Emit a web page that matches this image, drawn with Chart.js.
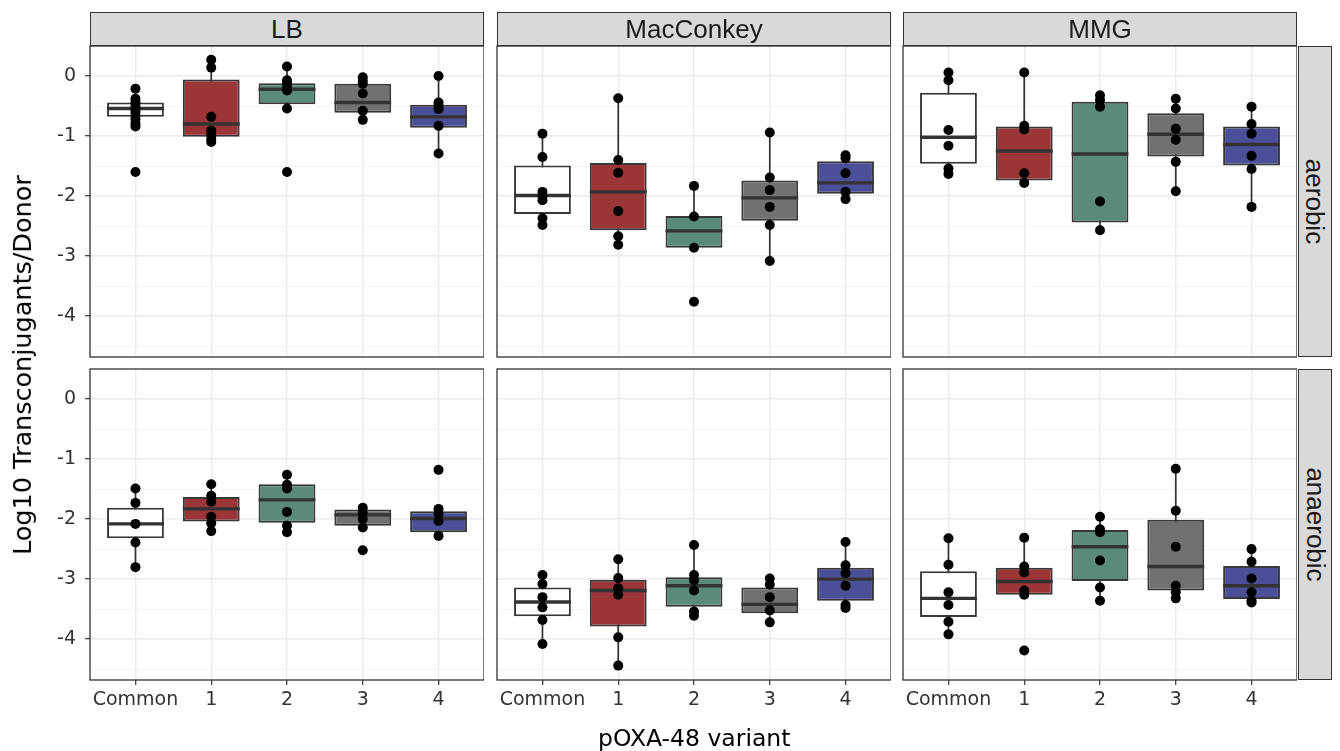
<!DOCTYPE html>
<html><head><meta charset="utf-8">
<script src="https://cdn.jsdelivr.net/npm/chart.js@4.4.1/dist/chart.umd.min.js"></script>
<style>
html,body{margin:0;padding:0;background:#fff;}
#wrap{position:relative;width:1340px;height:751px;overflow:hidden;background:#fff;}
canvas{position:absolute;}
.strip{position:absolute;box-sizing:border-box;background:#d9d9d9;border:1px solid #333;font-family:"Liberation Sans",Arial,sans-serif;font-size:26px;color:#1a1a1a;display:flex;align-items:center;justify-content:center;}
.vtext{transform:rotate(90deg);white-space:nowrap;}
.title{position:absolute;font-family:"DejaVu Sans",sans-serif;color:#000;white-space:nowrap;transform-origin:center center;}
</style></head><body><div id="wrap"></div>
<script>
// ---------- data ----------
const categories = ['Common', '1', '2', '3', '4'];
const media = ['LB', 'MacConkey', 'MMG'];
const conditions = ['aerobic', 'anaerobic'];
const yTickValues = [0, -1, -2, -3, -4];
const fillColors = ['#ffffff', '#9c3537', '#5a8a78', '#717171', '#4b4f97'];

// points per variant (Common,1,2,3,4)
const lbAerobicPoints = [
  [-0.21, -0.38, -0.44, -0.5, -0.55, -0.6, -0.66, -0.72, -0.79, -0.84, -1.6],
  [0.27, 0.14, -0.68, -0.91, -0.98, -1.05, -1.1],
  [0.16, -0.07, -0.12, -0.19, -0.24, -0.54, -1.6],
  [-0.02, -0.08, -0.13, -0.29, -0.58, -0.73],
  [0.0, -0.44, -0.5, -0.55, -0.83, -1.29]
];
const macAerobicPoints = [
  [-0.96, -1.35, -1.93, -2.0, -2.07, -2.37, -2.48],
  [-0.37, -1.4, -1.61, -2.25, -2.67, -2.81],
  [-1.83, -2.34, -2.86, -3.76],
  [-0.94, -1.69, -1.9, -2.18, -2.48, -3.08],
  [-1.32, -1.37, -1.62, -1.93, -2.05]
];
const mmgAerobicPoints = [
  [0.06, -0.07, -0.9, -1.16, -1.54, -1.63],
  [0.06, -0.83, -0.89, -1.62, -1.78],
  [-0.32, -0.4, -0.51, -2.09, -2.57],
  [-0.38, -0.54, -0.88, -1.06, -1.43, -1.92],
  [-0.51, -0.8, -0.96, -1.33, -1.55, -2.18]
];
const lbAnaerobicPoints = [
  [-1.49, -1.73, -2.08, -2.39, -2.8],
  [-1.42, -1.61, -1.71, -1.96, -2.07, -2.2],
  [-1.26, -1.43, -1.49, -1.88, -2.11, -2.22],
  [-1.81, -1.9, -2.0, -2.14, -2.52],
  [-1.18, -1.83, -1.91, -2.03, -2.28]
];
const macAnaerobicPoints = [
  [-2.93, -3.08, -3.3, -3.47, -3.68, -4.08],
  [-2.67, -2.98, -3.15, -3.26, -3.97, -4.44],
  [-2.43, -2.93, -3.02, -3.19, -3.54, -3.61],
  [-2.99, -3.09, -3.3, -3.52, -3.72],
  [-2.38, -2.77, -2.9, -3.11, -3.43, -3.48]
];
const mmgAnaerobicPoints = [
  [-2.32, -2.76, -3.22, -3.43, -3.71, -3.92],
  [-2.31, -2.79, -2.89, -3.19, -3.26, -4.19],
  [-1.96, -2.17, -2.22, -2.69, -3.14, -3.36],
  [-1.16, -1.86, -2.46, -3.11, -3.22, -3.32],
  [-2.5, -2.71, -2.99, -3.22, -3.36, -3.39]
];

// box stats per variant: [whisker low, q1, median, q3, whisker high]
const lbAerobicBoxes = [
  [-0.84, -0.68, -0.54, -0.44, -0.21],
  [-1.1, -1.01, -0.80, -0.06, 0.27],
  [-0.54, -0.47, -0.22, -0.12, 0.16],
  [-0.73, -0.61, -0.44, -0.13, -0.02],
  [-1.29, -0.86, -0.68, -0.48, 0.0]
];
const macAerobicBoxes = [
  [-2.48, -2.3, -1.99, -1.49, -0.96],
  [-2.81, -2.57, -1.93, -1.45, -0.37],
  [-2.86, -2.86, -2.58, -2.33, -1.83],
  [-3.08, -2.41, -2.03, -1.74, -0.94],
  [-2.05, -1.96, -1.78, -1.42, -1.32]
];
const mmgAerobicBoxes = [
  [-1.63, -1.46, -1.02, -0.28, 0.06],
  [-1.78, -1.74, -1.25, -0.84, 0.06],
  [-2.57, -2.44, -1.3, -0.43, -0.32],
  [-1.92, -1.34, -0.97, -0.62, -0.38],
  [-2.18, -1.49, -1.14, -0.84, -0.51]
];
const lbAnaerobicBoxes = [
  [-2.8, -2.32, -2.08, -1.81, -1.49],
  [-2.2, -2.04, -1.83, -1.63, -1.42],
  [-2.22, -2.06, -1.68, -1.42, -1.26],
  [-2.14, -2.11, -1.93, -1.84, -1.81],
  [-2.28, -2.22, -1.99, -1.87, -1.83]
];
const macAnaerobicBoxes = [
  [-4.08, -3.62, -3.38, -3.14, -2.93],
  [-4.44, -3.79, -3.19, -3.01, -2.67],
  [-3.61, -3.46, -3.11, -2.97, -2.43],
  [-3.72, -3.57, -3.42, -3.14, -2.99],
  [-3.48, -3.36, -3.0, -2.81, -2.38]
];
const mmgAnaerobicBoxes = [
  [-3.92, -3.63, -3.32, -2.87, -2.32],
  [-3.26, -3.26, -3.04, -2.81, -2.31],
  [-3.36, -3.03, -2.46, -2.18, -1.96],
  [-3.32, -3.19, -2.79, -2.01, -1.16],
  [-3.39, -3.33, -3.11, -2.78, -2.5]
];

const panels = [
  {col: 0, row: 0, points: lbAerobicPoints, boxes: lbAerobicBoxes},
  {col: 1, row: 0, points: macAerobicPoints, boxes: macAerobicBoxes},
  {col: 2, row: 0, points: mmgAerobicPoints, boxes: mmgAerobicBoxes},
  {col: 0, row: 1, points: lbAnaerobicPoints, boxes: lbAnaerobicBoxes},
  {col: 1, row: 1, points: macAnaerobicPoints, boxes: macAnaerobicBoxes},
  {col: 2, row: 1, points: mmgAnaerobicPoints, boxes: mmgAnaerobicBoxes}
];

// ---------- layout ----------
const PL = [90, 497, 903];
const PT = [46, 369];
const PW = 394, PH = 311;
const Y_MIN = -4.68, Y_MAX = 0.5;
const BOX_W = 0.75;
const wrap = document.getElementById('wrap');

function isInt(v) { return Math.abs(v - Math.round(v)) < 1e-9; }

const borderPlugin = {
  id: 'panelBorder',
  afterDraw(chart) {
    const {ctx, chartArea: a} = chart;
    ctx.save();
    ctx.strokeStyle = '#333';
    ctx.lineWidth = 1.3;
    ctx.strokeRect(a.left, a.top, a.right - a.left, a.bottom - a.top);
    ctx.restore();
  }
};

panels.forEach(p => {
  const mL = p.col === 0 ? 90 : 60;
  const padTop = 30;
  const mB = p.row === 1 ? 45 : 0;
  const padBottom = p.row === 1 ? 0 : 30;
  const cv = document.createElement('canvas');
  cv.width = mL + PW;
  cv.height = padTop + PH + (p.row === 1 ? mB : padBottom);
  cv.style.left = (PL[p.col] - mL) + 'px';
  cv.style.top = (PT[p.row] - padTop) + 'px';
  cv.style.width = cv.width + 'px';
  cv.style.height = cv.height + 'px';
  wrap.appendChild(cv);

  const whiskerData = [], medianData = [], boxData = [], pointData = [];
  p.boxes.forEach((b, i) => {
    whiskerData.push({x: i, y: b[0]}, {x: i, y: b[4]}, {x: i, y: null});
    medianData.push({x: i - BOX_W / 2, y: b[2]}, {x: i + BOX_W / 2, y: b[2]}, {x: i + BOX_W / 2, y: null});
    boxData.push({x: i, y: [b[1], b[3]]});
  });
  p.points.forEach((arr, i) => arr.forEach(v => pointData.push({x: i, y: v})));

  new Chart(cv, {
    type: 'bar',
    data: {
      datasets: [
        {type: 'line', data: whiskerData, borderColor: '#333', borderWidth: 1.7, pointRadius: 0, spanGaps: false, order: 4},
        {type: 'bar', data: boxData, backgroundColor: fillColors, borderColor: '#383838', borderWidth: 2,
         borderSkipped: false, barPercentage: BOX_W, categoryPercentage: 1, grouped: false, order: 3},
        {type: 'line', data: medianData, borderColor: '#333', borderWidth: 3.4, borderCapStyle: 'butt', pointRadius: 0, spanGaps: false, order: 2},
        {type: 'scatter', data: pointData, pointRadius: 5, backgroundColor: '#000', borderWidth: 0, order: 1}
      ]
    },
    options: {
      responsive: false,
      animation: false,
      events: [],
      devicePixelRatio: 1,
      layout: {autoPadding: false, padding: {top: padTop, bottom: padBottom, left: 0, right: 0}},
      plugins: {legend: {display: false}, tooltip: {enabled: false}, title: {display: false}},
      scales: {
        x: {
          type: 'linear', min: -0.6, max: 4.6, offset: false,
          afterBuildTicks: s => { s.ticks = categories.map((c, i) => ({value: i})); },
          afterFit: s => { s.height = mB; },
          border: {display: false},
          grid: {color: '#ebebeb', lineWidth: 1.4, offset: false, drawTicks: p.row === 1, tickLength: 5, tickColor: '#333', tickWidth: 1.2},
          ticks: {display: p.row === 1, autoSkip: false, maxRotation: 0, padding: 4, color: '#333',
                  font: {family: 'DejaVu Sans', size: 19}, callback: v => categories[Math.round(v)]}
        },
        y: {
          type: 'linear', min: Y_MIN, max: Y_MAX,
          afterBuildTicks: s => {
            const t = [];
            for (let v = -4.5; v <= 0.5 + 1e-9; v += 0.5) t.push({value: Math.round(v * 10) / 10});
            s.ticks = t;
          },
          afterFit: s => { s.width = mL; },
          border: {display: false},
          grid: {
            color: c => (c.tick && isInt(c.tick.value)) ? '#ebebeb' : '#f1f1f1',
            lineWidth: c => (c.tick && isInt(c.tick.value)) ? 1.4 : 0.8,
            drawTicks: p.col === 0, tickLength: 5, tickWidth: 1.2,
            tickColor: c => (c.tick && isInt(c.tick.value) && yTickValues.includes(Math.round(c.tick.value))) ? '#333' : 'rgba(0,0,0,0)'
          },
          ticks: {display: p.col === 0, padding: 9, color: '#333', font: {family: 'DejaVu Sans', size: 19},
                  callback: v => (isInt(v) && yTickValues.includes(Math.round(v))) ? String(Math.round(v)) : ''}
        }
      }
    },
    plugins: [borderPlugin]
  });
});

// strips
media.forEach((m, c) => {
  const d = document.createElement('div');
  d.className = 'strip';
  d.style.left = PL[c] + 'px'; d.style.top = '12px';
  d.style.width = PW + 'px'; d.style.height = '34px';
  d.textContent = m;
  wrap.appendChild(d);
});
conditions.forEach((cond, r) => {
  const d = document.createElement('div');
  d.className = 'strip';
  d.style.left = '1298px'; d.style.top = PT[r] + 'px';
  d.style.width = '34px'; d.style.height = PH + 'px';
  const s = document.createElement('span');
  s.className = 'vtext';
  s.textContent = cond;
  d.appendChild(s);
  wrap.appendChild(d);
});

// axis titles
const yt = document.createElement('div');
yt.className = 'title';
yt.style.fontSize = '25.5px';
yt.textContent = 'Log10 Transconjugants/Donor';
wrap.appendChild(yt);
yt.style.left = (22 - yt.offsetWidth / 2) + 'px';
yt.style.top = (365 - yt.offsetHeight / 2) + 'px';
yt.style.transform = 'rotate(-90deg)';

const xt = document.createElement('div');
xt.className = 'title';
xt.style.fontSize = '23.5px';
xt.textContent = 'pOXA-48 variant';
wrap.appendChild(xt);
xt.style.left = (694 - xt.offsetWidth / 2) + 'px';
xt.style.top = (738 - xt.offsetHeight / 2) + 'px';
</script></body></html>
